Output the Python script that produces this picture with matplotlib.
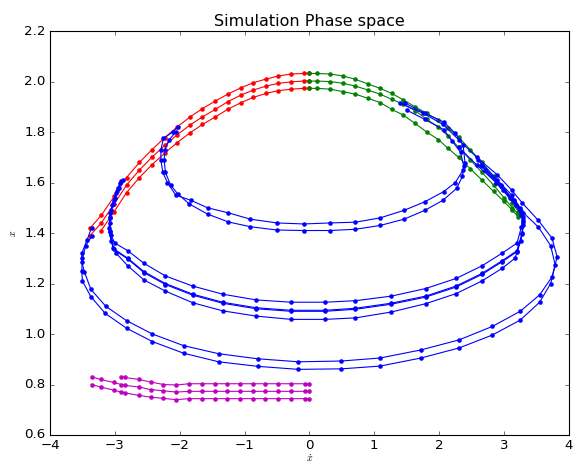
import numpy as np
import matplotlib
matplotlib.use('Agg')
import matplotlib.pyplot as plt

plt.style.use('classic')

# phase space samples, (xdot, x)
red_xd = [-3.38, -3.21, -3.01, -2.82, -2.62, -2.43, -2.23, -2.04, -1.84, -1.65,
          -1.45, -1.26, -1.06, -0.87, -0.67, -0.48, -0.28, -0.09, -0.01]
red_top = [1.42, 1.47, 1.545, 1.62, 1.68, 1.73, 1.778, 1.82, 1.86, 1.893,
           1.923, 1.95, 1.975, 1.995, 2.01, 2.022, 2.03, 2.032, 2.032]
red_mid = [1.39, 1.44, 1.515, 1.59, 1.65, 1.70, 1.747, 1.789, 1.828, 1.86,
           1.89, 1.92, 1.946, 1.966, 1.982, 1.993, 1.999, 2.002, 2.002]
red_low = [None, 1.41, 1.485, 1.56, 1.62, 1.67, 1.717, 1.758, 1.797, 1.83,
           1.86, 1.89, 1.916, 1.937, 1.953, 1.964, 1.97, 1.973, 1.973]

green_xd = [0.0, 0.12, 0.32, 0.52, 0.71, 0.91, 1.09, 1.27, 1.45, 1.63, 1.81,
            1.99, 2.14, 2.3, 2.48, 2.66, 2.84, 3.0, 3.13, 3.22]
green_top = [2.032, 2.032, 2.03, 2.022, 2.009, 1.99, 1.973, 1.953, 1.927, 1.90,
             1.874, 1.848, 1.815, 1.78, 1.73, 1.68, 1.625, 1.57, 1.52, 1.485]
green_mid = [2.002, 2.002, 2.0, 1.993, 1.982, 1.966, 1.95, 1.93, 1.91, 1.885,
             1.85, 1.82, 1.784, 1.74, 1.69, 1.64, 1.59, 1.54, 1.50, 1.475]
green_low = [1.973, 1.973, 1.97, 1.96, 1.95, 1.933, 1.917, 1.89, 1.867, 1.834,
             1.80, 1.77, 1.735, 1.70, 1.655, 1.61, 1.565, 1.525, 1.49, 1.465]

blue_outer_a = [(-3.36, 1.42), (-3.43, 1.372), (-3.51, 1.32), (-3.51, 1.286),
                (-3.47, 1.247), (-3.37, 1.177), (-3.14, 1.11), (-2.82, 1.053),
                (-2.42, 1.0), (-1.94, 0.954), (-1.4, 0.922), (-0.8, 0.902),
                (-0.17, 0.89), (0.49, 0.893), (1.09, 0.905), (1.72, 0.937),
                (2.31, 0.977), (2.82, 1.03), (3.25, 1.09), (3.55, 1.155),
                (3.74, 1.226), (3.82, 1.306), (3.74, 1.38), (3.53, 1.45),
                (3.28, 1.52), (3.12, 1.57), (2.9, 1.63), (2.58, 1.70),
                (2.3, 1.77), (2.06, 1.83), (1.75, 1.875), (1.4, 1.914)]
blue_outer_b = [(-3.35, 1.39), (-3.45, 1.35), (-3.5, 1.30), (-3.51, 1.25),
                (-3.5, 1.21), (-3.37, 1.148), (-3.15, 1.082), (-2.82, 1.023),
                (-2.42, 0.97), (-1.94, 0.924), (-1.4, 0.89), (-0.8, 0.872),
                (-0.17, 0.86), (0.49, 0.862), (1.09, 0.873), (1.72, 0.905),
                (2.31, 0.945), (2.82, 0.996), (3.25, 1.055), (3.55, 1.126),
                (3.72, 1.2), (3.79, 1.273), (3.72, 1.35), (3.53, 1.424),
                (3.3, 1.48), (3.1, 1.54), (2.88, 1.60), (2.58, 1.67), (2.3, 1.74)]

blue_mid_a = [(-2.88, 1.61), (-2.94, 1.58), (-3.0, 1.54), (-3.06, 1.49),
              (-3.08, 1.44), (-3.06, 1.392), (-3.0, 1.36), (-2.8, 1.33),
              (-2.55, 1.28), (-2.22, 1.23), (-1.8, 1.19), (-1.34, 1.158),
              (-0.82, 1.135), (-0.28, 1.126), (0.24, 1.126), (0.71, 1.132),
              (1.26, 1.15), (1.79, 1.18), (2.26, 1.22), (2.66, 1.27),
              (2.97, 1.32), (3.2, 1.36), (3.27, 1.425), (3.29, 1.465),
              (3.25, 1.5), (3.12, 1.55), (2.9, 1.61), (2.6, 1.69)]
blue_mid_b = [(-2.92, 1.60), (-2.98, 1.56), (-3.04, 1.51), (-3.08, 1.46),
              (-3.08, 1.41), (-3.03, 1.34), (-2.8, 1.30), (-2.55, 1.247),
              (-2.22, 1.20), (-1.8, 1.158), (-1.34, 1.126), (-0.82, 1.104),
              (-0.28, 1.094), (0.24, 1.094), (0.71, 1.102), (1.26, 1.122),
              (1.79, 1.15), (2.26, 1.19), (2.66, 1.24), (2.97, 1.29),
              (3.2, 1.33), (3.28, 1.40), (3.3, 1.45), (3.25, 1.49),
              (3.15, 1.53), (2.95, 1.59), (2.65, 1.67)]
blue_mid_c = [(-2.9, 1.605), (-2.96, 1.565), (-3.03, 1.515), (-3.07, 1.465),
              (-3.08, 1.405), (-3.02, 1.335), (-2.8, 1.297), (-2.55, 1.243),
              (-2.22, 1.196), (-1.8, 1.154), (-1.34, 1.122), (-0.82, 1.1),
              (-0.28, 1.09), (0.24, 1.09), (0.71, 1.098), (1.26, 1.118),
              (1.79, 1.146), (2.26, 1.186), (2.66, 1.236), (2.97, 1.286),
              (3.2, 1.326), (3.28, 1.395), (3.3, 1.445), (3.26, 1.487),
              (3.16, 1.527), (2.96, 1.585), (2.66, 1.665)]
blue_mid_d = [(-2.95, 1.58), (-3.02, 1.53), (-3.07, 1.48), (-3.09, 1.42),
              (-3.06, 1.37), (-2.98, 1.32), (-2.8, 1.27), (-2.55, 1.214),
              (-2.22, 1.17), (-1.8, 1.124), (-1.34, 1.092), (-0.82, 1.071),
              (-0.28, 1.058), (0.24, 1.058), (0.71, 1.064), (1.26, 1.087),
              (1.79, 1.12), (2.26, 1.16), (2.66, 1.21), (2.97, 1.26),
              (3.17, 1.30), (3.26, 1.37), (3.3, 1.43), (3.27, 1.47),
              (3.18, 1.51), (2.98, 1.57), (2.7, 1.65)]

blue_inner_a = [(-2.03, 1.82), (-2.11, 1.80), (-2.25, 1.775), (-2.29, 1.73),
                (-2.29, 1.69), (-2.26, 1.64), (-2.19, 1.60), (-2.06, 1.55),
                (-1.83, 1.53), (-1.57, 1.50), (-1.25, 1.48), (-0.91, 1.455),
                (-0.5, 1.44), (-0.09, 1.436), (0.32, 1.44), (0.71, 1.443),
                (1.09, 1.46), (1.46, 1.49), (1.78, 1.524), (2.07, 1.564),
                (2.25, 1.60), (2.37, 1.65), (2.4, 1.676), (2.37, 1.748),
                (2.25, 1.795), (2.07, 1.84), (1.78, 1.874), (1.48, 1.914)]
blue_inner_b = [(-2.06, 1.80), (-2.16, 1.77), (-2.23, 1.73), (-2.24, 1.69),
                (-2.22, 1.64), (-2.14, 1.59), (-2.03, 1.555), (-1.85, 1.515),
                (-1.57, 1.475), (-1.25, 1.444), (-0.91, 1.425), (-0.5, 1.412),
                (-0.09, 1.41), (0.32, 1.41), (0.71, 1.415), (1.09, 1.43),
                (1.46, 1.455), (1.78, 1.49), (2.06, 1.53), (2.27, 1.577),
                (2.36, 1.625), (2.38, 1.665), (2.33, 1.72), (2.2, 1.765),
                (2.07, 1.81), (1.78, 1.85), (1.5, 1.887)]

mag_xd = [-1.86, -1.65, -1.46, -1.27, -1.07, -0.87, -0.68, -0.48, -0.28, -0.07, 0.0]
mag_top = [(-2.9, 0.831), (-2.85, 0.828), (-2.63, 0.82), (-2.45, 0.81),
           (-2.25, 0.80), (-2.05, 0.798)] + [(v, 0.803) for v in mag_xd]
mag_mid = [(-3.36, 0.831), (-3.22, 0.82), (-3.02, 0.808), (-2.9, 0.80),
           (-2.85, 0.797), (-2.63, 0.79), (-2.45, 0.78), (-2.25, 0.775),
           (-2.05, 0.77)] + [(v, 0.773) for v in mag_xd]
mag_low = [(-3.36, 0.80), (-3.22, 0.79), (-3.02, 0.778), (-2.9, 0.77),
           (-2.85, 0.767), (-2.63, 0.757), (-2.45, 0.75), (-2.25, 0.745),
           (-2.05, 0.74)] + [(v, 0.744) for v in mag_xd]

fig = plt.figure(figsize=(574 / 80.0, 464 / 80.0), dpi=80, facecolor='w')
ax = fig.add_axes([0.0871, 0.0625, 0.9039, 0.8705])

for m in [mag_top, mag_mid, mag_low]:
    p = np.array(m).T
    ax.plot(p[0], p[1], 'm.-', markersize=7)

for ys in [red_top, red_mid, red_low]:
    pts = [(a, b) for a, b in zip(red_xd, ys) if b is not None]
    p = np.array(pts).T
    ax.plot(p[0], p[1], 'r.-', markersize=7)

for ys in [green_top, green_mid, green_low]:
    ax.plot(green_xd, ys, 'g.-', markersize=7)

for b in [blue_outer_a, blue_outer_b, blue_mid_a, blue_mid_b, blue_mid_c,
          blue_mid_d, blue_inner_a, blue_inner_b]:
    p = np.array(b).T
    ax.plot(p[0], p[1], 'b.-', markersize=7)

ax.set_xlim(-4, 4)
ax.set_ylim(0.6, 2.2)
ax.set_title('Simulation Phase space')
ax.set_xlabel(r'$\dot{x}$', fontsize=9, labelpad=0)
ax.set_ylabel(r'$x$', fontsize=9)

fig.savefig('out.png', dpi=80)
